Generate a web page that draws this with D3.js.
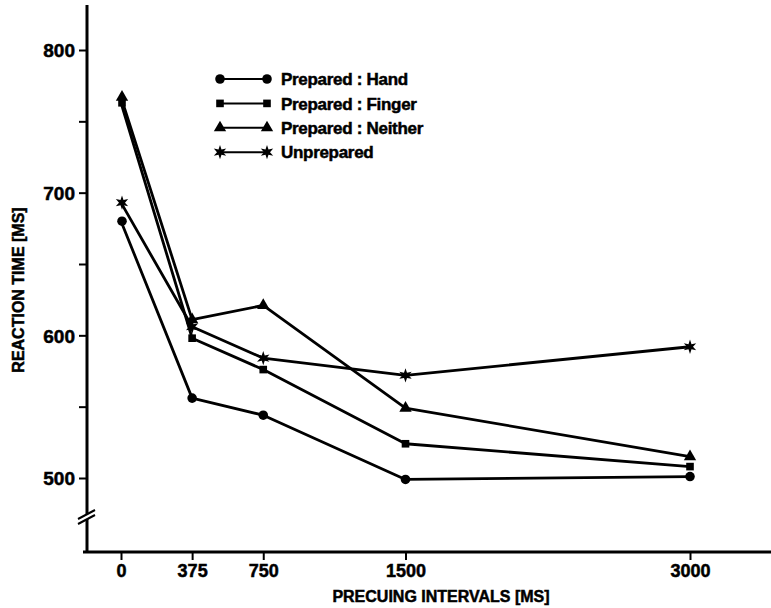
<!DOCTYPE html>
<html>
<head>
<meta charset="utf-8">
<script src="https://cdn.jsdelivr.net/npm/d3@7"></script>
<style>
  body { margin: 0; background: #fff; }
  svg text { font-family: "Liberation Sans", Arial, sans-serif; font-weight: bold; fill: #000; stroke: #000; stroke-width: 0.5px; }
</style>
</head>
<body>
<svg id="chart"></svg>
<script>
// precuing intervals (ms) and mean reaction times (ms)
const intervals = [0, 375, 750, 1500, 3000];
const preparedHand = [680, 556, 544, 499, 501];
const preparedFinger = [763, 598, 576, 524, 508];
const preparedNeither = [767, 611, 621, 549, 515];
const unprepared = [693, 606, 584, 572, 592];

const seriesNames = ['Prepared : Hand', 'Prepared : Finger', 'Prepared : Neither', 'Unprepared'];
const yTickValues = [500, 550, 600, 650, 700, 750, 800];
const yTickLabels = [500, 600, 700, 800];

// six pointed star, like the scanned marker
const symbolStar6 = {
  draw(context, size) {
    const r = Math.sqrt(size) * 0.8;
    const ri = r * 0.42;
    for (let i = 0; i < 12; i++) {
      const a = i * Math.PI / 6 - Math.PI / 2;
      const rr = i % 2 ? ri : r;
      if (i === 0) context.moveTo(rr * Math.cos(a), rr * Math.sin(a));
      else context.lineTo(rr * Math.cos(a), rr * Math.sin(a));
    }
    context.closePath();
  }
};

class ReactionChart {

  constructor(_config, _data) {
    this.config = {
      parentElement: _config.parentElement,
      containerWidth: _config.containerWidth || 771,
      containerHeight: _config.containerHeight || 608
    };
    this.data = _data;
    this.initVis();
  }

  initVis() {
    let vis = this;

    vis.svg = d3.select(vis.config.parentElement)
        .attr('width', vis.config.containerWidth)
        .attr('height', vis.config.containerHeight);

    vis.xScale = d3.scaleLinear()
        .domain([0, 3000])
        .range([121, 690]);

    vis.yScale = d3.scaleLinear()
        .domain([500, 800])
        .range([478, 50]);

    vis.axisX0 = 87;
    vis.axisY0 = 552;

    vis.symbols = [d3.symbolCircle, d3.symbolSquare, d3.symbolTriangle, symbolStar6];
    vis.symbolSizes = [72, 58, 66, 80];

    vis.renderVis();
  }

  renderVis() {
    let vis = this;

    // y axis
    const yAxis = d3.axisLeft(vis.yScale)
        .tickValues(yTickValues)
        .tickSize(8)
        .tickPadding(4)
        .tickFormat(d => yTickLabels.includes(d) ? d : '');

    const yAxisG = vis.svg.append('g')
        .attr('transform', `translate(${vis.axisX0},0)`)
        .call(yAxis);
    yAxisG.select('.domain').remove();
    yAxisG.selectAll('line').attr('stroke', '#000').attr('stroke-width', 2);
    yAxisG.selectAll('text').style('font-size', '19px').attr('dy', '0.36em');

    vis.svg.append('line')
        .attr('x1', vis.axisX0).attr('x2', vis.axisX0)
        .attr('y1', 5).attr('y2', vis.axisY0 + 1)
        .attr('stroke', '#000').attr('stroke-width', 3);

    // axis break
    vis.svg.append('rect')
        .attr('x', vis.axisX0 - 3).attr('y', 514)
        .attr('width', 6).attr('height', 5)
        .attr('fill', '#fff');
    [0, 5].forEach(off => {
      vis.svg.append('line')
          .attr('x1', 78).attr('y1', 519 + off)
          .attr('x2', 95).attr('y2', 510 + off)
          .attr('stroke', '#000').attr('stroke-width', 2);
    });

    // x axis
    const xAxis = d3.axisBottom(vis.xScale)
        .tickValues(intervals)
        .tickSize(8)
        .tickPadding(4)
        .tickFormat(d3.format('d'));

    const xAxisG = vis.svg.append('g')
        .attr('transform', `translate(0,${vis.axisY0})`)
        .call(xAxis);
    xAxisG.select('.domain').remove();
    xAxisG.selectAll('line').attr('stroke', '#000').attr('stroke-width', 2);
    xAxisG.selectAll('text').style('font-size', '18px');

    vis.svg.append('line')
        .attr('x1', 83).attr('x2', 771)
        .attr('y1', vis.axisY0).attr('y2', vis.axisY0)
        .attr('stroke', '#000').attr('stroke-width', 3);

    // axis titles
    vis.svg.append('text')
        .attr('x', 441).attr('y', 602)
        .attr('text-anchor', 'middle')
        .style('font-size', '16px')
        .text('PRECUING INTERVALS [MS]');

    vis.svg.append('text')
        .attr('transform', 'translate(24,290) rotate(-90)')
        .attr('text-anchor', 'middle')
        .style('font-size', '16px')
        .text('REACTION TIME [MS]');

    // series lines
    const line = d3.line()
        .x((d, i) => vis.xScale(intervals[i]))
        .y(d => vis.yScale(d));

    vis.svg.selectAll('.series')
        .data(vis.data)
      .join('path')
        .attr('class', 'series')
        .attr('d', d => line(d.values))
        .attr('fill', 'none')
        .attr('stroke', '#000')
        .attr('stroke-width', 2.8)
        .attr('stroke-linejoin', 'round');

    vis.data.forEach((s, si) => {
      vis.svg.selectAll(`.mark-${si}`)
          .data(s.values)
        .join('path')
          .attr('class', `mark-${si}`)
          .attr('transform', (d, i) => `translate(${vis.xScale(intervals[i]) + (i === 0 ? 1 : 0)},${vis.yScale(d)})`)
          .attr('d', d3.symbol().type(vis.symbols[si]).size(vis.symbolSizes[si]))
          .attr('fill', '#000');
    });

    // legend
    const legend = vis.svg.append('g')
        .attr('transform', 'translate(220,79)');

    const rows = legend.selectAll('.legend-row')
        .data(vis.data)
      .join('g')
        .attr('class', 'legend-row')
        .attr('transform', (d, i) => `translate(0,${i * 24.4})`);

    rows.append('line')
        .attr('x1', 0).attr('x2', 47)
        .attr('stroke', '#000').attr('stroke-width', 2);

    rows.each(function(d, i) {
      d3.select(this).selectAll('.legend-mark')
          .data([0, 47])
        .join('path')
          .attr('class', 'legend-mark')
          .attr('transform', x => `translate(${x},0)`)
          .attr('d', d3.symbol().type(vis.symbols[i]).size(vis.symbolSizes[i]))
          .attr('fill', '#000');
    });

    rows.append('text')
        .attr('x', 61)
        .attr('dy', '0.36em')
        .style('font-size', '17px')
        .style('letter-spacing', '-0.3px')
        .text(d => d.name);
  }
}

const seriesData = [
  {name: seriesNames[0], values: preparedHand},
  {name: seriesNames[1], values: preparedFinger},
  {name: seriesNames[2], values: preparedNeither},
  {name: seriesNames[3], values: unprepared}
];

new ReactionChart({parentElement: '#chart'}, seriesData);
</script>
</body>
</html>
